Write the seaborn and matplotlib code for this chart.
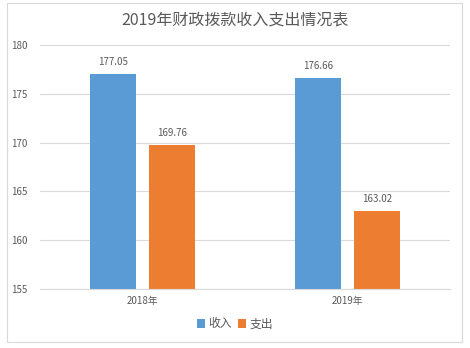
import matplotlib
matplotlib.use("Agg")
import matplotlib.pyplot as plt
from matplotlib.patches import Rectangle
import seaborn as sns
import pandas as pd

# Fiscal appropriation figures by year
years = ["2018年", "2019年"]
series = ["收入", "支出"]
income = [177.05, 176.66]
expense = [169.76, 163.02]
y_ticks = [155, 160, 165, 170, 175, 180]

df = pd.DataFrame({
    "年份": years * 2,
    "类别": [series[0]] * len(years) + [series[1]] * len(years),
    "金额": income + expense,
})

sns.set_theme(style="white")
plt.rcParams["font.family"] = ["Noto Sans CJK SC", "DejaVu Sans"]

text_color = "#595959"
fig = plt.figure(figsize=(4.7, 3.48), dpi=100)
ax = fig.add_axes([40 / 470, 1 - 289 / 348, 410 / 470, 244 / 348])

sns.barplot(data=df, x="年份", y="金额", hue="类别", ax=ax,
            palette=["#5B9BD5", "#ED7D31"], width=0.571, gap=0.222,
            saturation=1, errorbar=None, linewidth=0, edgecolor="none")

ax.set_ylim(155, 180)
ax.set_yticks(y_ticks)
ax.set_yticklabels([str(t) for t in y_ticks])
ax.set_xlim(-0.5, 1.5)
ax.grid(axis="y", color="#D9D9D9", linewidth=0.8)
ax.set_axisbelow(True)
for side in ["left", "right", "top"]:
    ax.spines[side].set_visible(False)
ax.spines["bottom"].set_color("#D9D9D9")
ax.spines["bottom"].set_linewidth(0.8)
ax.tick_params(axis="both", length=0, labelsize=7, colors=text_color)
ax.tick_params(axis="y", pad=9)
ax.tick_params(axis="x", pad=5)
ax.set_xlabel("")
ax.set_ylabel("")

for cont in ax.containers:
    ax.bar_label(cont, fmt="%.2f", padding=5, fontsize=7, color=text_color)

fig.text(0.5, 1 - 20 / 348, "2019年财政拨款收入支出情况表", ha="center", va="center",
         fontsize=11.5, color=text_color)

handles, labels = ax.get_legend_handles_labels()
ax.legend(handles, labels, loc="center", bbox_to_anchor=(0.5, 24 / 348),
          bbox_transform=fig.transFigure, ncol=2, frameon=False, fontsize=8.5,
          handlelength=0.7, handleheight=0.7, handletextpad=0.3,
          columnspacing=0.5, labelcolor=text_color)

fig.add_artist(Rectangle((7 / 470, 6 / 348), 455 / 470, 339 / 348,
                         transform=fig.transFigure, fill=False,
                         edgecolor="#D9D9D9", linewidth=0.8))

fig.savefig("out.png", dpi=100, facecolor="white")
